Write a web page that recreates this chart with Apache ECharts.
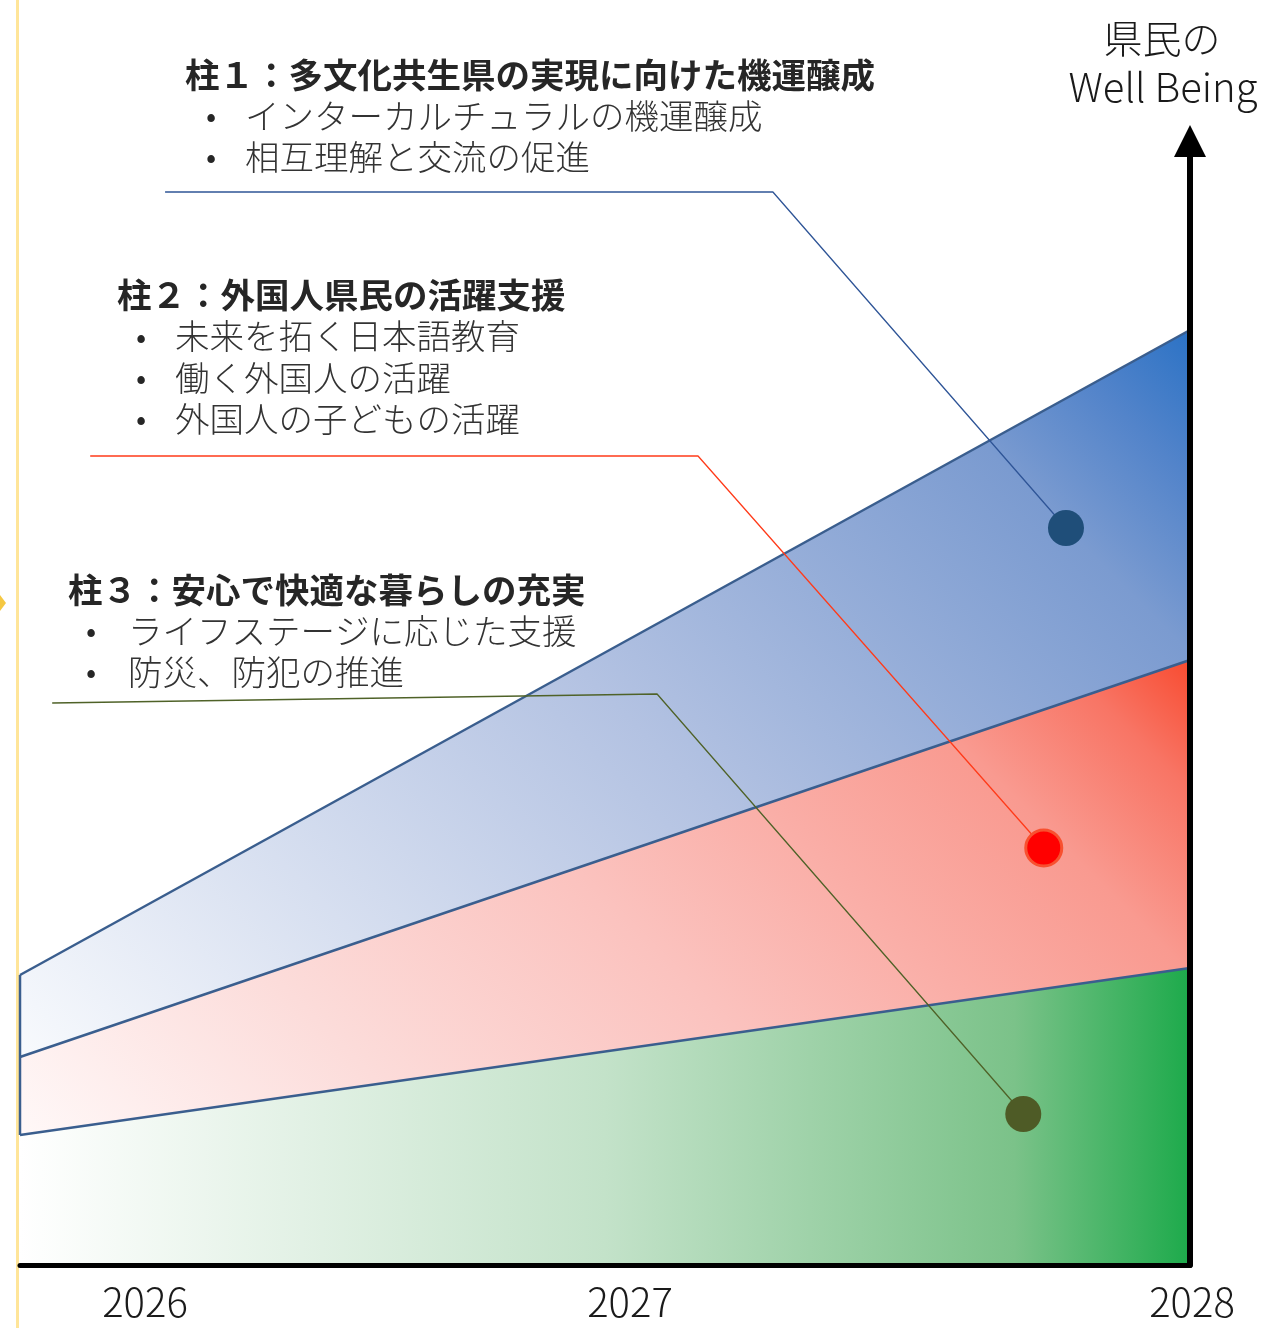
<!DOCTYPE html>
<html lang="ja">
<head>
<meta charset="utf-8">
<title>県民のWell Being</title>
<script src="https://cdn.jsdelivr.net/npm/echarts@6/dist/echarts.min.js"></script>
<style>
  html, body { margin: 0; padding: 0; background: #ffffff; }
  #chart { width: 1282px; height: 1328px; }
</style>
</head>
<body>
<div id="chart"></div>
<script>
// Time span on the horizontal axis
const yearStart = 2026;
const yearEnd = 2028;
const yearLabels = ['2026', '2027', '2028'];

// Stacked band thickness at the start and end year (bottom to top)
const bandYears = ['2026', '2028'];
const pillar3Band = [130, 297];   // green
const pillar2Band = [78, 308];    // red
const pillar1Band = [82, 330];    // blue

// Leader lines from each text block to its marker: [year, level]
const pillar1Leader = [[2026.248, 1073], [2027.287, 1073], [2027.788, 737]];
const pillar2Leader = [[2026.120, 809], [2027.159, 809], [2027.750, 417]];
const pillar3Leader = [[2026.055, 562], [2027.089, 571], [2027.715, 151]];

// Text blocks
const pillar1Title = '柱１：多文化共生県の実現に向けた機運醸成';
const pillar1Items = ['インターカルチュラルの機運醸成', '相互理解と交流の促進'];
const pillar2Title = '柱２：外国人県民の活躍支援';
const pillar2Items = ['未来を拓く日本語教育', '働く外国人の活躍', '外国人の子どもの活躍'];
const pillar3Title = '柱３：安心で快適な暮らしの充実';
const pillar3Items = ['ライフステージに応じた支援', '防災、防犯の推進'];
const axisTitle = ['県民の', 'Well Being'];

const FONT = '"Noto Sans CJK JP", "Noto Sans", sans-serif';
const edgeColor = '#3A5E8E';

const chart = echarts.init(document.getElementById('chart'), null, { renderer: 'canvas' });

function lg(x, y, x2, y2, stops) {
  return new echarts.graphic.LinearGradient(x, y, x2, y2,
    stops.map(s => ({ offset: s[0], color: s[1] })));
}

function bandSeries(name, values, fill) {
  return {
    name: name,
    type: 'line',
    xAxisIndex: 0,
    stack: 'wellbeing',
    data: values,
    symbol: 'none',
    lineStyle: { color: edgeColor, width: 2.5 },
    areaStyle: { color: fill, opacity: 1 },
    z: 2,
    silent: true
  };
}

function leaderSeries(points, color, dotColor, dotBorder) {
  return [{
    type: 'line',
    xAxisIndex: 1,
    data: points,
    symbol: 'none',
    lineStyle: { color: color, width: 1.3 },
    z: 5,
    silent: true
  }, {
    type: 'scatter',
    xAxisIndex: 1,
    data: [points[points.length - 1]],
    symbolSize: 36,
    itemStyle: { color: dotColor, borderColor: dotBorder || dotColor, borderWidth: dotBorder ? 3 : 0, opacity: 1 },
    z: 6,
    silent: true
  }];
}

function textBlock(title, items, left, titleY, bulletX, itemLeft, step) {
  const out = [{
    type: 'text', x: left, y: titleY, z: 20,
    style: { text: title, font: 'bold 34.5px ' + FONT, fill: '#262626', align: 'left', verticalAlign: 'middle' }
  }];
  items.forEach((t, i) => {
    const y = titleY + step * (i + 1);
    out.push({
      type: 'text', x: bulletX, y: y, z: 20,
      style: { text: '•', font: '30px ' + FONT, fill: '#262626', align: 'center', verticalAlign: 'middle' }
    });
    out.push({
      type: 'text', x: itemLeft, y: y, z: 20,
      style: { text: t, font: '300 34.5px ' + FONT, fill: '#333333', align: 'left', verticalAlign: 'middle' }
    });
  });
  return out;
}

// Year labels sit under the base line
const yearLabelX = [145, 630, 1192];
const yearTexts = yearLabels.map((t, i) => ({
  type: 'text', x: yearLabelX[i], y: 1302, z: 20,
  style: { text: t, font: '300 40px ' + FONT, fill: '#1a1a1a', align: 'center', verticalAlign: 'middle' }
}));

const hiddenAxisParts = {
  axisTick: { show: false }, axisLabel: { show: false }, splitLine: { show: false }
};

// Fills run at 45° from the top-right corner of each band to its lower-left corner
const greenFill = lg(0, 0, 1, 0, [
  [0, '#FFFFFF'], [0.5, '#C3E2C9'], [0.85, '#7BC289'], [1, '#1DAA4B']
]);
const redFill = lg(1, 0, 0.297, 1.732, [
  [0, '#F84B30'], [0.08, '#F87565'], [0.19, '#F99A90'], [0.5, '#FBC2BE'], [0.75, '#FCDCDA'], [1, '#FFF8F8']
]);
const blueFill = lg(1, 0, 0.189, 1.305, [
  [0, '#2B72C5'], [0.08, '#5384CA'], [0.17, '#7B9BD0'], [0.5, '#B3C2E2'], [1, '#F8FAFD']
]);

const option = {
  backgroundColor: '#ffffff',
  animation: false,
  grid: { left: 20, right: 92, top: 155, bottom: 63, containLabel: false },
  xAxis: [{
    type: 'category', data: bandYears, boundaryGap: false,
    axisLine: { show: true, onZero: false, lineStyle: { color: '#000000', width: 5 } },
    ...hiddenAxisParts,
    z: 10
  }, {
    type: 'value', min: yearStart, max: yearEnd, interval: 1,
    axisLine: { show: false },
    ...hiddenAxisParts
  }],
  yAxis: {
    type: 'value', position: 'right', min: 0, max: 1110,
    axisLine: {
      show: true, onZero: false,
      lineStyle: { color: '#000000', width: 6 },
      symbol: ['none', 'triangle'], symbolSize: [32, 32], symbolOffset: [0, 14]
    },
    ...hiddenAxisParts,
    z: 10
  },
  series: [
    bandSeries('柱３', pillar3Band, greenFill),
    bandSeries('柱２', pillar2Band, redFill),
    bandSeries('柱１', pillar1Band, blueFill),
    {
      // left edge of the upper two bands
      type: 'line',
      xAxisIndex: 1,
      data: [[yearStart, pillar3Band[0]], [yearStart, pillar3Band[0] + pillar2Band[0] + pillar1Band[0]]],
      symbol: 'none',
      lineStyle: { color: edgeColor, width: 2.5 },
      z: 3, silent: true
    },
    ...leaderSeries(pillar1Leader, '#2F5597', '#1F4E79', null),
    ...leaderSeries(pillar2Leader, '#FF3B1A', '#FF0000', '#F8502F'),
    ...leaderSeries(pillar3Leader, '#4F6228', '#4E5B26', null)
  ],
  graphic: [
    {
      type: 'line', z: 1,
      shape: { x1: 17.5, y1: 0, x2: 17.5, y2: 1328 },
      style: { stroke: '#FFE599', lineWidth: 3 }
    },
    {
      type: 'polygon', z: 1,
      shape: { points: [[0, 595], [6, 603], [0, 611]] },
      style: { fill: '#F5C842' }
    },
    ...textBlock(pillar1Title, pillar1Items, 185, 75, 211, 245, 41),
    ...textBlock(pillar2Title, pillar2Items, 117, 295, 141, 175, 41.3),
    ...textBlock(pillar3Title, pillar3Items, 68, 590, 91, 128, 41),
    {
      type: 'text', x: 1162, y: 38, z: 20,
      style: { text: axisTitle[0], font: '300 39px ' + FONT, fill: '#1a1a1a', align: 'center', verticalAlign: 'middle' }
    },
    {
      type: 'text', x: 1163, y: 87, z: 20,
      style: { text: axisTitle[1], font: '300 40px ' + FONT, fill: '#1a1a1a', align: 'center', verticalAlign: 'middle' }
    },
    ...yearTexts
  ]
};

chart.setOption(option);
</script>
</body>
</html>
